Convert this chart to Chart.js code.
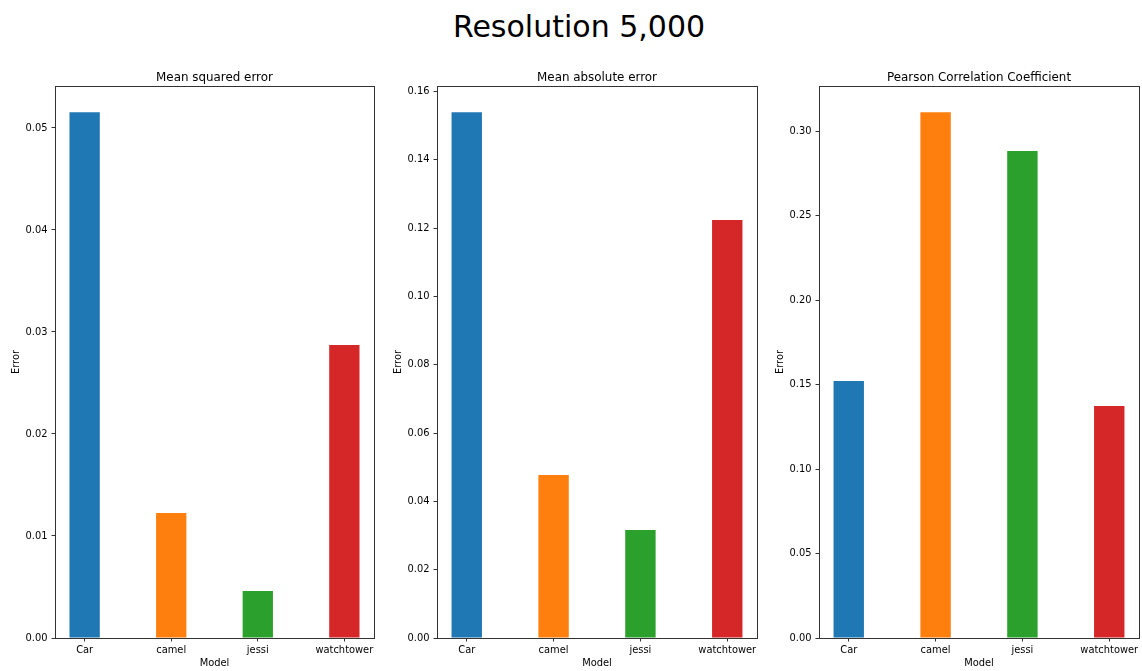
<!DOCTYPE html>
<html>
<head>
<meta charset="utf-8">
<script src="https://cdn.jsdelivr.net/npm/chart.js@4.4.1/dist/chart.umd.min.js"></script>
<style>
  html, body { margin: 0; padding: 0; background: #fff; overflow: hidden; width: 1142px; height: 671px; }
  #suptitle { position: absolute; left: 0; width: 1158px; top: 11.6px; text-align: center;
              font: 30px/30px "DejaVu Sans", sans-serif; color: #000; }
  canvas { position: absolute; }
</style>
</head>
<body>
<div id="suptitle">Resolution 5,000</div>
<canvas id="c0"></canvas>
<canvas id="c1"></canvas>
<canvas id="c2"></canvas>
<script>
// ---- data ----
const categories = ['Car', 'camel', 'jessi', 'watchtower'];
const barColors = ['#1f77b4', '#ff7f0e', '#2ca02c', '#d62728'];
const panelTitles = ['Mean squared error', 'Mean absolute error', 'Pearson Correlation Coefficient'];
const mseValues = [0.05154, 0.01225, 0.00461, 0.02873];
const maeValues = [0.1539, 0.0477, 0.0316, 0.1224];
const pccValues = [0.1521, 0.3111, 0.2882, 0.1373];
const yTickSteps = [0.01, 0.02, 0.05];
const xAxisTitle = 'Model';
const yAxisTitle = 'Error';

// ---- layout of the three panels (plot area edges, page px) ----
const plotLefts = [55, 437, 819];
const plotRights = [374, 757, 1139];
const canvasTop = 60, canvasHeight = 611;
const yAxisWidth = 55, xAxisHeight = 33, rightPad = 3, titleBand = 26;

Chart.defaults.font.family = '"DejaVu Sans", sans-serif';
Chart.defaults.color = '#000';

const ink = '#333';

// boxes the plot area and writes the panel title centred over it
const frame = {
  id: 'frame',
  afterDraw(chart, args, opts) {
    const { ctx, chartArea: a } = chart;
    ctx.save();
    ctx.strokeStyle = ink;
    ctx.lineWidth = 1;
    ctx.strokeRect(Math.round(a.left) + 0.5, Math.round(a.top) + 0.5,
                   Math.round(a.right - a.left), Math.round(a.bottom - a.top));
    ctx.fillStyle = '#000';
    ctx.font = '11.9px "DejaVu Sans", sans-serif';
    ctx.textAlign = 'center';
    ctx.textBaseline = 'alphabetic';
    ctx.fillText(opts.text, (a.left + a.right) / 2, a.top - 5.5);
    ctx.restore();
  }
};

const seriesList = [mseValues, maeValues, pccValues];

seriesList.forEach((values, p) => {
  const cv = document.getElementById('c' + p);
  const left = plotLefts[p] - yAxisWidth;
  const width = plotRights[p] - left + rightPad;
  cv.style.left = left + 'px';
  cv.style.top = canvasTop + 'px';
  cv.width = width; cv.height = canvasHeight;
  cv.style.width = width + 'px'; cv.style.height = canvasHeight + 'px';

  const n = categories.length;
  const xMargin = (n - 1 + 0.35) * 0.05 + 0.175;

  new Chart(cv, {
    type: 'bar',
    data: {
      datasets: [{
        data: values.map((v, i) => ({ x: i, y: v })),
        backgroundColor: barColors,
        borderWidth: 0,
        barPercentage: 0.35,
        categoryPercentage: 1
      }]
    },
    options: {
      responsive: false,
      animation: false,
      devicePixelRatio: 1,
      events: [],
      layout: { padding: { left: 0, right: rightPad, top: titleBand, bottom: 0 } },
      plugins: {
        legend: { display: false },
        tooltip: { enabled: false },
        title: { display: false },
        frame: { text: panelTitles[p] }
      },
      scales: {
        x: {
          type: 'linear',
          offset: false,
          min: -xMargin,
          max: n - 1 + xMargin,
          afterBuildTicks: s => { s.ticks = categories.map((_, i) => ({ value: i })); },
          afterFit: s => { s.height = xAxisHeight; s.paddingLeft = 0; s.paddingRight = 0; },
          ticks: {
            autoSkip: false, maxRotation: 0, minRotation: 0,
            padding: 3,
            font: { size: 9.9 },
            color: '#000',
            callback: v => categories[v]
          },
          grid: { offset: false, drawOnChartArea: false, drawTicks: true, tickLength: 3.5, tickColor: ink, tickWidth: 1 },
          border: { display: true, color: ink, width: 1 },
          title: { display: true, text: xAxisTitle, font: { size: 9.9, lineHeight: 1.2 }, color: '#000',
                   padding: { top: 0, bottom: 2 } }
        },
        y: {
          type: 'linear',
          min: 0,
          max: Math.max(...values) * 1.05,
          afterFit: s => { s.width = yAxisWidth; s.paddingTop = 0; s.paddingBottom = 0; },
          ticks: {
            stepSize: yTickSteps[p],
            includeBounds: false,
            padding: 4,
            font: { size: 9.9 },
            color: '#000',
            callback: v => Number(v).toFixed(2)
          },
          grid: { drawOnChartArea: false, drawTicks: true, tickLength: 3.5, tickColor: ink, tickWidth: 1 },
          border: { display: true, color: ink, width: 1 },
          title: { display: true, text: yAxisTitle, font: { size: 9.9, lineHeight: 1.2 }, color: '#000',
                   padding: { top: 10, bottom: 0 } }
        }
      }
    },
    plugins: [frame]
  });
});
</script>
</body>
</html>
